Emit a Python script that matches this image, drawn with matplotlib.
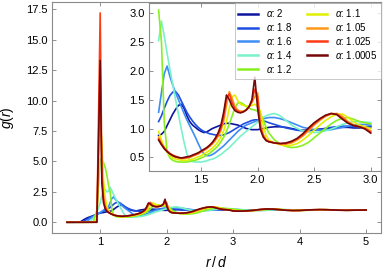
import numpy as np
import matplotlib
matplotlib.use('Agg')
from matplotlib import pyplot as plt

# ---------------- data ----------------
# shared r/d grid: before contact, around contact, inset range, tail
r_grid = np.concatenate([
    [0.5, 0.6, 0.7, 0.75, 0.8, 0.85, 0.9, 0.95],
    [1.0, 1.025, 1.05, 1.075, 1.1],
    np.round(np.arange(1.125, 2.1001, 0.025), 3),
    np.round(np.arange(2.15, 3.0001, 0.05), 3),
    np.round(np.arange(3.1, 5.0001, 0.1), 3),
])

alphas = ['2', '1.8', '1.6', '1.4', '1.2', '1.1', '1.05', '1.025', '1.0005']
colors = ['#0c16a0', '#1f4fe0', '#3d8df5', '#78f2c8', '#88f020',
          '#e0f000', '#ff981a', '#ff3a14', '#760808']

g_2 = [0, 0, 0.02, 0.2, 0.35, 0.45, 0.55, 0.68,
       0.76, 0.78, 0.8, 0.83, 0.86,
       0.88, 0.9, 0.95, 1.05, 1.15, 1.25, 1.33, 1.4, 1.42, 1.35,
       1.22, 1.12, 1.06, 1.02, 0.98, 0.95, 0.93, 0.94, 0.97, 1.0,
       1.02, 1.04, 1.06, 1.08, 1.09, 1.09, 1.08, 1.07, 1.06, 1.04,
       1.02, 1.0, 0.99, 0.98, 0.98, 0.98, 0.99, 1.0, 1.01, 1.02,
       1.03, 1.03, 1.02, 1.0, 0.98, 0.97, 0.97, 0.98, 0.99, 1.0,
       1.01, 1.02, 1.02, 1.02, 1.01, 1.01, 1.02, 1.03,
       1.02, 1.01, 1.0, 0.99, 0.99, 1.0, 1.0, 1.0, 1.0, 1.0,
       1.0, 1.0, 1.0, 1.0, 1.0, 1.0, 1.0, 1.0, 1.0, 1.0]

g_18 = [0, 0, 0, 0.05, 0.25, 0.4, 0.52, 0.65,
        0.78, 0.85, 0.92, 0.98, 1.05,
        1.12, 1.22, 1.35, 1.47, 1.57, 1.63, 1.64, 1.58, 1.48, 1.38,
        1.28, 1.2, 1.13, 1.07, 1.02, 0.98, 0.95, 0.93, 0.91, 0.90,
        0.89, 0.88, 0.88, 0.89, 0.91, 0.93, 0.96, 0.99, 1.02, 1.05,
        1.08, 1.1, 1.12, 1.14, 1.15, 1.15, 1.14, 1.13, 1.12, 1.1,
        1.07, 1.04, 1.01, 0.99, 0.97, 0.96, 0.96, 0.97, 0.98, 1.0,
        1.02, 1.03, 1.04, 1.04, 1.03, 1.03, 1.03, 1.04,
        1.02, 1.0, 0.99, 0.99, 1.0, 1.01, 1.01, 1.0, 1.0, 1.0,
        1.0, 1.0, 1.0, 1.0, 1.0, 1.0, 1.0, 1.0, 1.0, 1.0]

g_16 = [0, 0, 0, 0, 0.05, 0.3, 0.48, 0.62,
        0.8, 0.9, 1.0, 1.1, 1.2,
        1.28, 1.62, 1.95, 2.08, 1.9, 1.75, 1.62, 1.5, 1.38, 1.26,
        1.15, 1.05, 0.95, 0.85, 0.74, 0.64, 0.56, 0.53, 0.53, 0.55,
        0.58, 0.62, 0.66, 0.70, 0.75, 0.80, 0.85, 0.90, 0.95, 0.99,
        1.03, 1.06, 1.08, 1.10, 1.12, 1.14, 1.16, 1.17, 1.18, 1.19,
        1.19, 1.17, 1.14, 1.10, 1.06, 1.02, 1.0, 0.98, 0.97, 0.97,
        0.98, 1.0, 1.02, 1.04, 1.06, 1.07, 1.07, 1.06,
        1.03, 1.0, 0.98, 0.98, 0.99, 1.01, 1.02, 1.02, 1.01, 1.0,
        1.0, 0.99, 1.0, 1.0, 1.01, 1.0, 1.0, 1.0, 1.0, 1.0]

g_14 = [0, 0, 0, 0, 0, 0.05, 0.35, 0.8,
        1.6, 2.2, 2.6, 2.7, 2.5,
        2.52, 2.86, 2.6, 2.3, 2.02, 1.76, 1.5, 1.25, 1.0, 0.76,
        0.56, 0.46, 0.43, 0.42, 0.42, 0.42, 0.43, 0.44, 0.46, 0.47,
        0.49, 0.52, 0.55, 0.59, 0.63, 0.67, 0.72, 0.77, 0.82, 0.87,
        0.91, 0.95, 0.99, 1.03, 1.07, 1.11, 1.15, 1.19, 1.22, 1.24,
        1.26, 1.22, 1.14, 1.06, 1.0, 0.96, 0.94, 0.93, 0.94, 0.96,
        0.99, 1.03, 1.07, 1.10, 1.12, 1.12, 1.11, 1.10,
        1.05, 1.0, 0.97, 0.97, 0.99, 1.02, 1.04, 1.04, 1.02, 1.0,
        0.99, 0.99, 1.0, 1.01, 1.01, 1.0, 1.0, 1.0, 1.0, 1.0]

g_12 = [0, 0, 0, 0, 0, 0, 0.05, 1.0,
        5.2, 5.1, 4.9, 4.5, 3.9,
        3.05, 2.5, 1.1, 0.6, 0.49, 0.45, 0.43, 0.42, 0.42, 0.42,
        0.42, 0.43, 0.44, 0.45, 0.47, 0.49, 0.51, 0.54, 0.57, 0.61,
        0.65, 0.70, 0.77, 0.85, 0.95, 1.08, 1.22, 1.36, 1.44, 1.45,
        1.42, 1.38, 1.35, 1.33, 1.32, 1.30, 1.25, 1.15, 1.02, 0.92,
        0.80, 0.73, 0.69, 0.67, 0.68, 0.71, 0.76, 0.84, 0.92, 1.0,
        1.08, 1.14, 1.18, 1.19, 1.16, 1.12, 1.10, 1.08,
        1.0, 0.95, 0.95, 0.99, 1.04, 1.07, 1.06, 1.02, 0.99, 0.97,
        0.98, 1.0, 1.02, 1.03, 1.02, 1.01, 0.99, 0.99, 1.0, 1.0]

g_11 = [0, 0, 0, 0, 0, 0, 0, 0.3,
        8.5, 6.5, 3.5, 2.0, 1.3,
        0.95, 0.80, 0.68, 0.59, 0.53, 0.49, 0.47, 0.46, 0.45, 0.45,
        0.45, 0.46, 0.47, 0.49, 0.51, 0.53, 0.56, 0.59, 0.62, 0.66,
        0.71, 0.77, 0.85, 0.96, 1.12, 1.35, 1.55, 1.58, 1.48, 1.42,
        1.40, 1.39, 1.39, 1.40, 1.42, 1.38, 1.30, 1.05, 0.88, 0.80,
        0.75, 0.72, 0.70, 0.71, 0.74, 0.80, 0.88, 0.97, 1.06, 1.14,
        1.20, 1.25, 1.25, 1.19, 1.11, 1.06, 1.03, 1.0,
        0.94, 0.93, 0.96, 1.02, 1.07, 1.08, 1.05, 1.0, 0.97, 0.97,
        0.99, 1.01, 1.03, 1.03, 1.02, 1.0, 0.99, 0.99, 1.0, 1.0]

g_105 = [0, 0, 0, 0, 0, 0, 0, 0.05,
         11.5, 4.5, 2.2, 1.4, 1.02,
         0.85, 0.75, 0.67, 0.61, 0.56, 0.53, 0.50, 0.49, 0.48, 0.48,
         0.49, 0.50, 0.52, 0.54, 0.56, 0.59, 0.62, 0.65, 0.69, 0.73,
         0.79, 0.86, 0.96, 1.12, 1.40, 1.64, 1.52, 1.38, 1.32, 1.30,
         1.30, 1.33, 1.38, 1.45, 1.55, 1.62, 1.10, 0.90, 0.81, 0.78,
         0.75, 0.73, 0.73, 0.75, 0.80, 0.87, 0.96, 1.06, 1.14, 1.21,
         1.25, 1.26, 1.21, 1.12, 1.06, 1.03, 1.01, 0.96,
         0.92, 0.93, 0.97, 1.03, 1.08, 1.08, 1.04, 0.99, 0.97, 0.97,
         0.99, 1.02, 1.03, 1.03, 1.01, 1.0, 0.98, 0.99, 1.0, 1.0]

g_1025 = [0, 0, 0, 0, 0, 0, 0, 0,
          17.2, 4.0, 1.9, 1.25, 0.95,
          0.82, 0.73, 0.66, 0.61, 0.57, 0.54, 0.52, 0.50, 0.49, 0.49,
          0.50, 0.51, 0.53, 0.55, 0.57, 0.60, 0.63, 0.66, 0.70, 0.75,
          0.81, 0.89, 1.0, 1.2, 1.52, 1.60, 1.45, 1.34, 1.30, 1.28,
          1.29, 1.32, 1.37, 1.47, 1.68, 1.55, 1.02, 0.87, 0.80, 0.77,
          0.75, 0.74, 0.74, 0.77, 0.82, 0.89, 0.99, 1.08, 1.16, 1.22,
          1.26, 1.25, 1.18, 1.10, 1.05, 1.03, 1.00, 0.94,
          0.91, 0.93, 0.97, 1.04, 1.09, 1.08, 1.04, 0.99, 0.96, 0.97,
          1.0, 1.02, 1.04, 1.03, 1.01, 0.99, 0.98, 0.99, 1.0, 1.0]

g_10005 = [0, 0, 0, 0, 0, 0, 0, 0,
           13.3, 3.2, 1.6, 1.1, 0.9,
           0.80, 0.72, 0.65, 0.60, 0.56, 0.53, 0.51, 0.50, 0.49, 0.50,
           0.51, 0.52, 0.54, 0.56, 0.58, 0.61, 0.64, 0.67, 0.71, 0.76,
           0.83, 0.92, 1.05, 1.28, 1.58, 1.50, 1.38, 1.31, 1.28, 1.27,
           1.29, 1.32, 1.38, 1.50, 1.89, 1.35, 0.98, 0.85, 0.79, 0.77,
           0.75, 0.74, 0.75, 0.78, 0.83, 0.91, 1.01, 1.10, 1.17, 1.23,
           1.26, 1.24, 1.16, 1.09, 1.05, 1.03, 0.99, 0.92,
           0.91, 0.93, 0.98, 1.05, 1.09, 1.08, 1.03, 0.98, 0.96, 0.97,
           1.00, 1.03, 1.04, 1.03, 1.01, 0.99, 0.98, 0.99, 1.00, 1.00]

all_g = [g_2, g_18, g_16, g_14, g_12, g_11, g_105, g_1025, g_10005]


def style_axes(ax):
    ax.tick_params(direction='in', top=True, right=True, length=3,
                   width=0.6, color='#808080', labelsize=8, pad=3)
    for sp in ax.spines.values():
        sp.set_color('#8a8a8a')
        sp.set_linewidth(0.8)


def main():
    plt.rcParams['font.family'] = 'Liberation Sans'
    plt.rcParams['mathtext.fontset'] = 'custom'
    plt.rcParams['mathtext.it'] = 'Liberation Sans:italic'
    plt.rcParams['mathtext.rm'] = 'Liberation Sans'

    fig = plt.figure(figsize=(3.84, 2.73), dpi=100)
    ax = fig.add_axes([0.1354, 0.1476, 0.857, 0.845])

    for g, c in zip(all_g, colors):
        ax.plot(r_grid, g, color=c, lw=1.2)

    ax.set_xlim(0.275, 5.225)
    ax.set_ylim(-0.86, 18.1)
    ax.set_xticks([1, 2, 3, 4, 5])
    ax.set_yticks(np.arange(0, 17.6, 2.5))
    ax.set_yticklabels(['%.1f' % v for v in np.arange(0, 17.6, 2.5)])
    ax.set_xlabel(r'$r\,/\,d$', fontsize=10, labelpad=6)
    ax.set_ylabel(r'$g(r)$', fontsize=10, labelpad=7)
    style_axes(ax)

    # inset zoom on the structure between contact and 3d
    ins = fig.add_axes([0.388, 0.3747, 0.604, 0.614])
    mask = (r_grid >= 1.12) & (r_grid <= 3.0)
    for g, c, a in zip(all_g, colors, alphas):
        ins.plot(r_grid[mask], np.array(g)[mask], color=c, lw=1.2,
                 label=r'$\alpha$: ' + a)

    ins.set_xlim(1.04, 3.09)
    ins.set_ylim(0.27, 3.17)
    ins.set_xticks([1.5, 2.0, 2.5, 3.0])
    ins.set_xticklabels(['1.5', '2.0', '2.5', '3.0'])
    ins.set_yticks([0.5, 1.0, 1.5, 2.0, 2.5, 3.0])
    ins.set_yticklabels(['0.5', '1.0', '1.5', '2.0', '2.5', '3.0'])
    style_axes(ins)

    leg = ins.legend(loc='upper right', ncol=2, fontsize=7, frameon=True,
                     fancybox=False, borderaxespad=0, labelspacing=0.2,
                     handlelength=2.0, columnspacing=1.6, handletextpad=0.8,
                     borderpad=0.4)
    leg.get_frame().set_edgecolor('#b0b0b0')
    leg.get_frame().set_linewidth(0.6)
    for line in leg.get_lines():
        line.set_linewidth(1.8)

    fig.savefig('out.png', dpi=100)


if __name__ == '__main__':
    main()
